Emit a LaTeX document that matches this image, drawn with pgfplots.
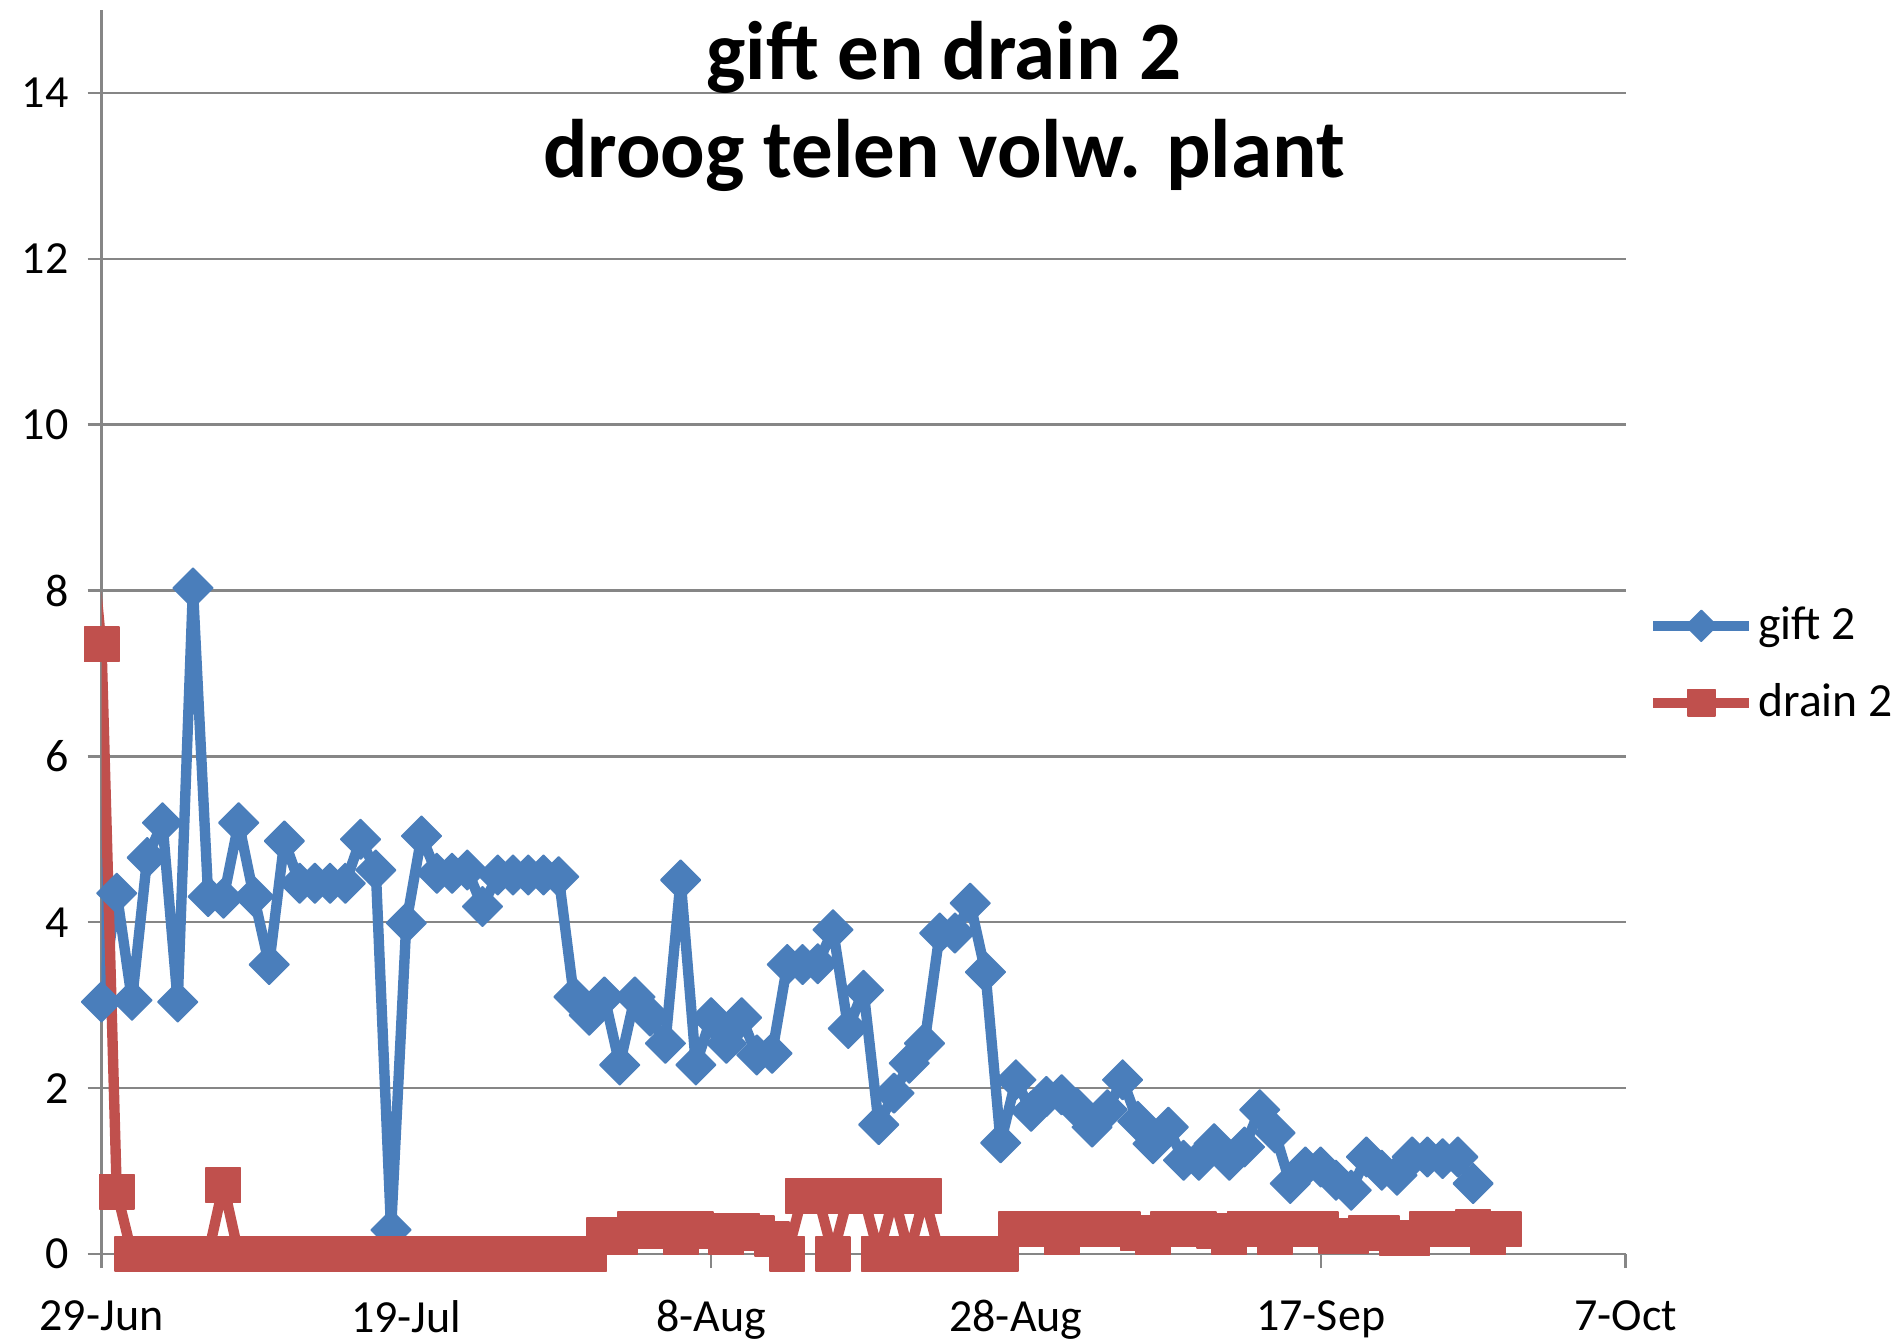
\documentclass[border=0pt]{standalone}
\usepackage{fontspec}
\setmainfont{Carlito}
\usepackage{pgfplots}
\pgfplotsset{compat=1.18}
\definecolor{giftblue}{RGB}{74,126,187}
\definecolor{drainred}{RGB}{192,80,77}
\definecolor{gridgray}{RGB}{134,134,134}
\begin{document}
\begin{tikzpicture}
\begin{axis}[
  name=ax, scale only axis, width=381pt, height=311pt,
  xmin=0, xmax=100, ymin=0, ymax=15,
  xtick={0,20,40,60,80,100},
  xticklabels={29-Jun,19-Jul,8-Aug,28-Aug,17-Sep,7-Oct},
  ytick={0,2,4,6,8,10,12,14},
  axis x line*=bottom, axis y line*=left,
  axis line style={gridgray, line width=0.6pt},
  ymajorgrids, major grid style={gridgray, line width=0.6pt},
  tick align=outside, major tick length=3.5pt,
  tick style={gridgray, line width=0.6pt},
  ticklabel style={font=\fontsize{11.5}{13}\selectfont},
  xticklabel style={yshift=-4.6pt},
  yticklabel style={xshift=-1.2pt},
  /pgf/number format/assume math mode=true,
  legend style={draw=none, fill=none, at={(1.0143,0.474)}, anchor=west,
    inner sep=0pt, row sep=7.5pt, font=\fontsize{11.9}{13}\selectfont,
    nodes={inner sep=1pt}},
  legend cell align=left,
  legend image code/.code={
    \draw[mark repeat=2, mark phase=2, #1, every mark/.append style={scale=0.78}]
      plot coordinates {(0pt,0pt) (12pt,0pt) (24pt,0pt)};
  },
]
\addplot[forget plot, giftblue, line width=2.5pt, no markers] coordinates {(-1,10.6) (0,3.04)};
\addplot[forget plot, drainred, line width=2.5pt, no markers] coordinates {(-1,9.3) (0,7.35)};
\addplot[giftblue, line width=2.6pt, line join=round, mark=square*, mark size=3.5pt,
  mark options={solid, rotate=45, fill=giftblue, draw=giftblue, line width=0.4pt}]
  coordinates {
  (0,3.04) (1,4.35) (2,3.06) (3,4.78) (4,5.2) (5,3.04) (6,8.03) (7,4.31) (8,4.29) (9,5.2)
  (10,4.31) (11,3.49) (12,4.98) (13,4.47) (14,4.47) (15,4.47) (16,4.47) (17,5.0) (18,4.63) (19,0.29)
  (20,3.99) (21,5.04) (22,4.59) (23,4.59) (24,4.63) (25,4.19) (26,4.57) (27,4.57) (28,4.57) (29,4.57)
  (30,4.55) (31,3.1) (32,2.88) (33,3.1) (34,2.28) (35,3.1) (36,2.87) (37,2.54) (38,4.51) (39,2.28)
  (40,2.85) (41,2.54) (42,2.85) (43,2.4) (44,2.42) (45,3.49) (46,3.49) (47,3.5) (48,3.91) (49,2.72)
  (50,3.18) (51,1.56) (52,1.94) (53,2.3) (54,2.54) (55,3.87) (56,3.87) (57,4.23) (58,3.4) (59,1.34)
  (60,2.1) (61,1.72) (62,1.9) (63,1.92) (64,1.76) (65,1.53) (66,1.74) (67,2.1) (68,1.6) (69,1.33)
  (70,1.53) (71,1.13) (72,1.13) (73,1.33) (74,1.13) (75,1.29) (76,1.74) (77,1.46) (78,0.85) (79,1.05)
  (80,1.05) (81,0.89) (82,0.77) (83,1.17) (84,1.01) (85,0.95) (86,1.17) (87,1.17) (88,1.15) (89,1.17)
  (90,0.85)
  };
\addlegendentry{gift 2}
\addplot[drainred, line width=2.6pt, line join=round, mark=square*, mark size=4.3pt,
  mark options={solid, fill=drainred, draw=drainred, line width=0.4pt}]
  coordinates {
  (0,7.35) (1,0.75) (2,0) (3,0) (4,0) (5,0) (6,0) (7,0) (8,0.83) (9,0)
  (10,0) (11,0) (12,0) (13,0) (14,0) (15,0) (16,0) (17,0) (18,0) (19,0)
  (20,0) (21,0) (22,0) (23,0) (24,0) (25,0) (26,0) (27,0) (28,0) (29,0)
  (30,0) (31,0) (32,0) (33,0.23) (34,0.2) (35,0.3) (36,0.28) (37,0.3) (38,0.2) (39,0.3)
  (40,0.28) (41,0.2) (42,0.28) (43,0.25) (44,0.18) (45,0) (46,0.7) (47,0.7) (48,0) (49,0.7)
  (50,0.7) (51,0) (52,0.7) (53,0) (54,0.7) (55,0) (56,0) (57,0) (58,0) (59,0)
  (60,0.3) (61,0.3) (62,0.3) (63,0.2) (64,0.3) (65,0.3) (66,0.3) (67,0.3) (68,0.25) (69,0.2)
  (70,0.3) (71,0.3) (72,0.3) (73,0.28) (74,0.2) (75,0.3) (76,0.3) (77,0.2) (78,0.3) (79,0.3)
  (80,0.3) (81,0.22) (82,0.22) (83,0.25) (84,0.25) (85,0.19) (86,0.19) (87,0.3) (88,0.3) (89,0.3)
  (90,0.32) (91,0.2) (92,0.3)
  };
\addlegendentry{drain 2}
\end{axis}
\node[anchor=base, font=\fontsize{20.75}{24}\selectfont\bfseries, inner sep=0pt]
  at ([shift={(210.6pt,293.7pt)}]ax.south west) {gift en drain 2};
\node[anchor=base, font=\fontsize{20.75}{24}\selectfont\bfseries, inner sep=0pt]
  at ([shift={(210.6pt,269.2pt)}]ax.south west) {droog telen volw. plant};
\pgfresetboundingbox
\path[use as bounding box] (ax.south west) ++(-25.375pt,-21.25pt) rectangle ++(473.75pt,334.75pt);
\end{tikzpicture}
\end{document}
